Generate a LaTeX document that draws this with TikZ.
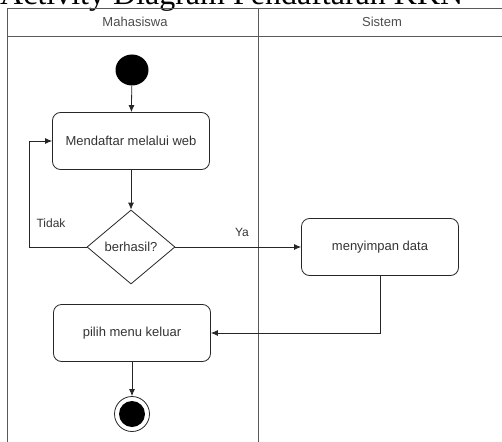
\documentclass[tikz,border=0pt]{standalone}
\usepackage{xcolor}
\usepackage{tikz}
\usepackage{fontspec}
\setmainfont{Liberation Serif}
\newfontfamily\diagfont{Liberation Sans}
\usetikzlibrary{shapes.geometric, arrows.meta, positioning, calc}
\definecolor{inkgray}{HTML}{333333}
\definecolor{lanegray}{HTML}{5A5A5A}

\begin{document}
\begin{tikzpicture}[x=1pt, y=-1pt,
    lane/.style={draw=lanegray, line width=0.9pt},
    action/.style={draw=black!85, rounded corners=8pt, line width=0.8pt, minimum width=157pt, minimum height=57pt, font=\diagfont\fontsize{13}{15}\selectfont, text=inkgray},
    decision/.style={draw=black!85, diamond, line width=0.8pt, minimum width=88pt, minimum height=74pt, inner sep=1pt, font=\diagfont\fontsize{13}{15}\selectfont, text=inkgray},
    lbl/.style={font=\diagfont\fontsize{12}{14}\selectfont, text=inkgray},
    flow/.style={draw=black!85, line width=0.8pt, -{Latex[length=7pt, width=6pt]}}]
    \clip (0,0) rectangle (502,441);
    % Title (cut off at the top)
    \node[anchor=base west, inner sep=0pt, font=\fontsize{32}{36}\selectfont] (judul) at (0,5) {Activity Diagram Pendaftaran KKN};
    % Swimlanes
    \draw[lane] (7,8) rectangle (509,470);
    \draw[lane] (7,36) -- (509,36);
    \draw[lane] (258,8) -- (258,470);
    \node[lbl, font=\diagfont\fontsize{13}{15}\selectfont, text=black!70] (mhs) at (135,22) {Mahasiswa};
    \node[lbl, font=\diagfont\fontsize{13}{15}\selectfont, text=black!70] (sistem) at (382,22) {Sistem};
    % Nodes
    \node[ellipse, fill=black, minimum width=33pt, minimum height=31pt, inner sep=0pt] (mulai) at (132,70) {};
    \node[action] (daftar) at (131,141) {Mendaftar melalui web};
    \node[decision] (cek) at (131,247) {berhasil?};
    \node[action] (simpan) at (380,247) {menyimpan data};
    \node[action] (keluar) at (132,333) {pilih menu keluar};
    \node[circle, draw=black!85, line width=0.8pt, fill=white, minimum size=35pt, inner sep=0pt] (selesai) at (132,414) {};
    \fill[black] (selesai.center) circle (13pt);
    % Flows
    \draw[flow] (mulai) -- (daftar);
    \draw[flow] (daftar) -- (cek);
    \draw[flow] (cek.west) -- ++(-57,0) |- (daftar.west);
    \draw[flow] (cek.east) -- (simpan.west);
    \draw[flow] (simpan.south) |- (keluar.east);
    \draw[flow] (keluar) -- (selesai);
    \node[lbl] (tidak) at (51,223) {Tidak};
    \node[lbl] (ya) at (242,232) {Ya};
\end{tikzpicture}
\end{document}
